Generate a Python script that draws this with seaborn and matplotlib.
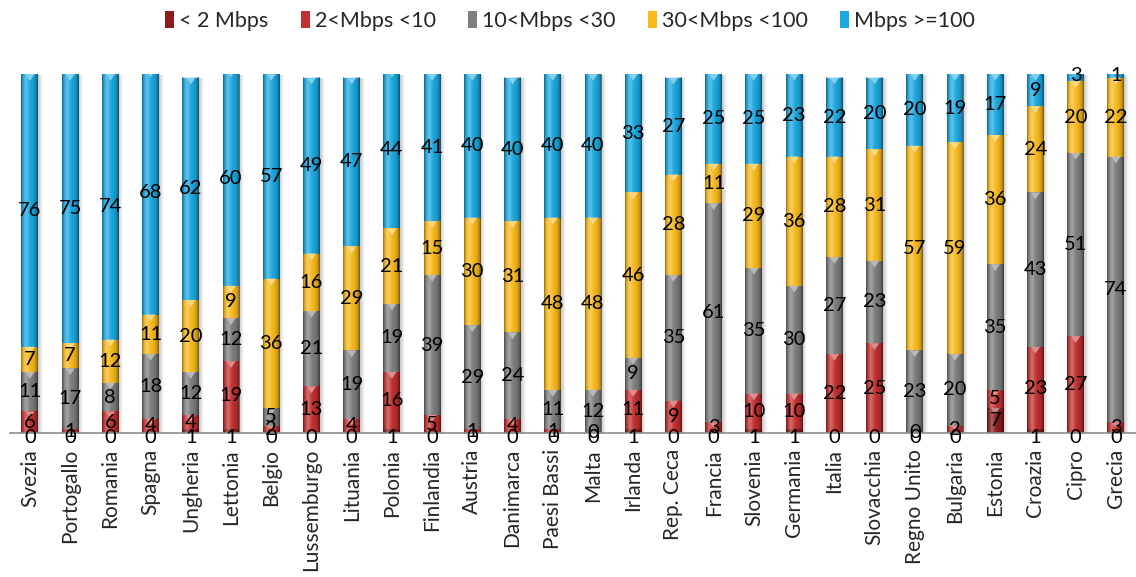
import numpy as np
import pandas as pd
import matplotlib
matplotlib.use("Agg")
import matplotlib.pyplot as plt
from matplotlib.patches import Polygon, Patch
from matplotlib.colors import to_rgb
import seaborn as sns

# Broadband speed distribution (% of lines) by country
countries = ["Svezia", "Portogallo", "Romania", "Spagna", "Ungheria", "Lettonia", "Belgio",
             "Lussemburgo", "Lituania", "Polonia", "Finlandia", "Austria", "Danimarca",
             "Paesi Bassi", "Malta", "Irlanda", "Rep. Ceca", "Francia", "Slovenia", "Germania",
             "Italia", "Slovacchia", "Regno Unito", "Bulgaria", "Estonia", "Croazia", "Cipro", "Grecia"]
below_2 = [0, 0, 0, 0, 1, 1, 0, 0, 0, 1, 0, 0, 0, 0, 0, 1, 0, 0, 1, 1, 0, 0, 0, 0, 7, 1, 0, 0]
from_2_to_10 = [6, 1, 6, 4, 4, 19, 2, 13, 4, 16, 5, 1, 4, 1, 0, 11, 9, 3, 10, 10, 22, 25, 0, 2, 5, 23, 27, 3]
from_10_to_30 = [11, 17, 8, 18, 12, 12, 5, 21, 19, 19, 39, 29, 24, 11, 12, 9, 35, 61, 35, 30, 27, 23, 23, 20, 35, 43, 51, 74]
from_30_to_100 = [7, 7, 12, 11, 20, 9, 36, 16, 29, 21, 15, 30, 31, 48, 48, 46, 28, 11, 29, 36, 28, 31, 57, 59, 36, 24, 20, 22]
over_100 = [76, 75, 74, 68, 62, 60, 57, 49, 47, 44, 41, 40, 40, 40, 40, 33, 27, 25, 25, 23, 22, 20, 20, 19, 17, 9, 3, 1]

series_names = ["< 2 Mbps", "2<Mbps <10", "10<Mbps <30", "30<Mbps <100", "Mbps >=100"]
series_colors = ["#8C1C1E", "#C2302F", "#7E7E7E", "#F9BA1C", "#1CA9E1"]

sns.set_theme(style="white")
plt.rcParams["font.family"] = ["Lato", "DejaVu Sans"]

df = pd.DataFrame({
    "country": countries,
    series_names[0]: below_2,
    series_names[1]: from_2_to_10,
    series_names[2]: from_10_to_30,
    series_names[3]: from_30_to_100,
    series_names[4]: over_100,
})
values = df[series_names].to_numpy(dtype=float)
cum = np.cumsum(values, axis=1)
for k, name in enumerate(series_names):
    df["cum_" + name] = cum[:, k]

W, H = 1136, 577
fig = plt.figure(figsize=(W / 100, H / 100), dpi=100)
ax = fig.add_axes([9.8 / W, 1 - 433 / H, 1 - 9.8 / W, (433 - 74) / H])

bar_w = 0.42
n = len(countries)

# soft drop shadow on the right of each column
shadow = np.zeros((1, 32, 4))
shadow[..., :3] = 0.35
shadow[0, :, 3] = np.linspace(0.35, 0.0, 32)
for i in range(n):
    x0 = i + bar_w / 2
    ax.imshow(shadow, extent=[x0 - 0.01, x0 + 0.1, -0.3, min(cum[i, -1], 100) - 0.3],
              aspect="auto", interpolation="bilinear", zorder=0.5)

# stacked columns: draw cumulative totals from the top series down
for k in range(len(series_names) - 1, -1, -1):
    sns.barplot(data=df, x="country", y="cum_" + series_names[k], order=countries,
                color=series_colors[k], saturation=1, width=bar_w, edgecolor="none",
                linewidth=0, ax=ax, zorder=1 + (len(series_names) - k) * 0.01)

# cylindrical shading across every column
t = np.linspace(0, 1, 64)
dark = 0.45 * np.exp(-t / 0.08) + 0.55 * np.exp(-(1 - t) / 0.14)
light = 0.28 * np.exp(-((t - 0.3) / 0.16) ** 2)
dark_img = np.zeros((1, 64, 4))
dark_img[0, :, 3] = np.clip(dark, 0, 1)
light_img = np.ones((1, 64, 4))
light_img[0, :, 3] = light
for i in range(n):
    ext = [i - bar_w / 2, i + bar_w / 2, 0, cum[i, -1]]
    ax.imshow(dark_img, extent=ext, aspect="auto", interpolation="bilinear", zorder=2)
    ax.imshow(light_img, extent=ext, aspect="auto", interpolation="bilinear", zorder=2.1)

# bevel triangles at the top of each segment
def lighten(c, f):
    r = np.array(to_rgb(c))
    return tuple(r + (1 - r) * f)

tri_w = bar_w * 0.55
for k in range(len(series_names)):
    tc = lighten(series_colors[k], 0.45)
    for i in range(n):
        v = values[i, k]
        if v < 2:
            continue
        top = cum[i, k]
        th = min(1.9, v * 0.5)
        ax.add_patch(Polygon([(i - tri_w / 2, top), (i + tri_w / 2, top), (i, top - th)],
                             closed=True, facecolor=tc, edgecolor="none", zorder=3))

# value labels at segment centres
for k in range(len(series_names)):
    for i in range(n):
        v = values[i, k]
        y = cum[i, k] - v / 2
        if k == 0 and v < 3:
            y = -1.2
        ax.text(i, y, f"{int(v)}", ha="center", va="center", fontsize=14.5,
                color="black", zorder=5, clip_on=False)

ax.set_xlim(-0.5, n - 0.6)
ax.set_ylim(0, 100)
ax.set_xlabel("")
ax.set_ylabel("")
ax.set_yticks([])
for s in ["left", "top", "right"]:
    ax.spines[s].set_visible(False)
ax.spines["bottom"].set_color("#8C8C8C")
ax.spines["bottom"].set_linewidth(1.2)

ax.set_xticks(range(n))
ax.set_xticklabels(countries, rotation=90, fontsize=15)
ax.set_xticks(np.arange(-0.5, n, 1), minor=True)
ax.tick_params(axis="x", which="major", length=0, pad=11.5)
ax.tick_params(axis="x", which="minor", length=5, width=1.2, color="#8C8C8C", direction="out")

handles = [Patch(facecolor=c, edgecolor="none") for c in series_colors]
fig.legend(handles, series_names, loc="center", bbox_to_anchor=(0.502, 1 - 21 / H), ncol=5,
           frameon=False, fontsize=15.5, handlelength=0.4, handleheight=0.8,
           handletextpad=0.25, columnspacing=1.5)

fig.savefig("out.png", dpi=100)
